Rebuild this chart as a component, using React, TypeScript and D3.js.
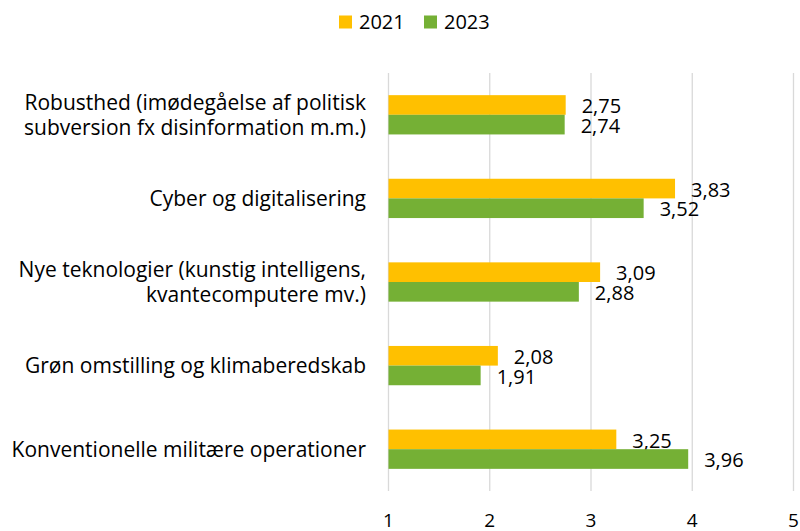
import React from "react";
import * as d3 from "d3";

const categories = [
  ["Robusthed (imødegåelse af politisk", "subversion fx disinformation m.m.)"],
  ["Cyber og digitalisering"],
  ["Nye teknologier (kunstig intelligens,", "kvantecomputere mv.)"],
  ["Grøn omstilling og klimaberedskab"],
  ["Konventionelle militære operationer"],
];
const values2021 = [2.75, 3.83, 3.09, 2.08, 3.25];
const values2023 = [2.74, 3.52, 2.88, 1.91, 3.96];
const seriesNames = ["2021", "2023"];
const colors = ["#FFC000", "#75B035"];
const xTicks = [1, 2, 3, 4, 5];

const width = 800;
const height = 531;
const margin = { top: 73, right: 6.5, bottom: 40, left: 388.5 };
const font = "'Open Sans', Lato, sans-serif";
const fs = 20;

export default function App() {
  const plotBottom = 491;

  const x = d3.scaleLinear().domain([1, 5]).range([margin.left, width - margin.right]);
  const y = d3
    .scaleBand<number>()
    .domain(d3.range(categories.length))
    .range([margin.top, plotBottom])
    .paddingInner(0.53)
    .paddingOuter(0.265);
  const sub = d3
    .scaleBand<number>()
    .domain([0, 1])
    .range([0, y.bandwidth()]);

  const fmt = (v: number) => v.toFixed(2).replace(".", ",");
  const series = [values2021, values2023];

  return (
    <svg
      width={width}
      height={height}
      style={{ position: "absolute", left: 0, top: 0, fontFamily: font }}
    >
      <rect width={width} height={height} fill="#fff" />
      {/* gridlines */}
      {xTicks.map((t) => (
        <line
          key={t}
          x1={x(t)}
          x2={x(t)}
          y1={margin.top}
          y2={plotBottom}
          stroke="#D9D9D9"
          strokeWidth={1.3}
        />
      ))}
      {/* bars */}
      {categories.map((c, i) =>
        series.map((s, j) => {
          const y0 = (y(i) as number) + (sub(j) as number);
          return (
            <g key={`${i}-${j}`}>
              <rect
                x={x(1)}
                y={y0}
                width={x(s[i]) - x(1)}
                height={sub.bandwidth()}
                fill={colors[j]}
              />
              <text
                x={x(s[i]) + 16}
                y={y0 + sub.bandwidth() / 2 + 1}
                dy="0.36em"
                fontSize={fs}
                fill="#000"
              >
                {fmt(s[i])}
              </text>
            </g>
          );
        })
      )}
      {/* category labels */}
      {categories.map((lines, i) => {
        const cy = (y(i) as number) + y.bandwidth() / 2;
        const lh = 25.5;
        return (
          <text key={i} x={366} textAnchor="end" fontSize={21} fill="#000">
            {lines.map((l, k) => (
              <tspan
                key={k}
                x={366}
                y={cy + (k - (lines.length - 1) / 2) * lh}
                dy="0.36em"
              >
                {l}
              </tspan>
            ))}
          </text>
        );
      })}
      {/* x tick labels */}
      {xTicks.map((t) => (
        <text
          key={t}
          x={x(t)}
          y={520}
          dy="0.36em"
          textAnchor="middle"
          fontSize={19}
          fill="#000"
        >
          {t}
        </text>
      ))}
      {/* legend */}
      {seriesNames.map((n, j) => {
        const lx = 339 + j * 85;
        return (
          <g key={n}>
            <rect x={lx} y={15.5} width={13} height={13} fill={colors[j]} />
            <text x={lx + 20} y={22} dy="0.36em" fontSize={fs} fill="#000">
              {n}
            </text>
          </g>
        );
      })}
    </svg>
  );
}
